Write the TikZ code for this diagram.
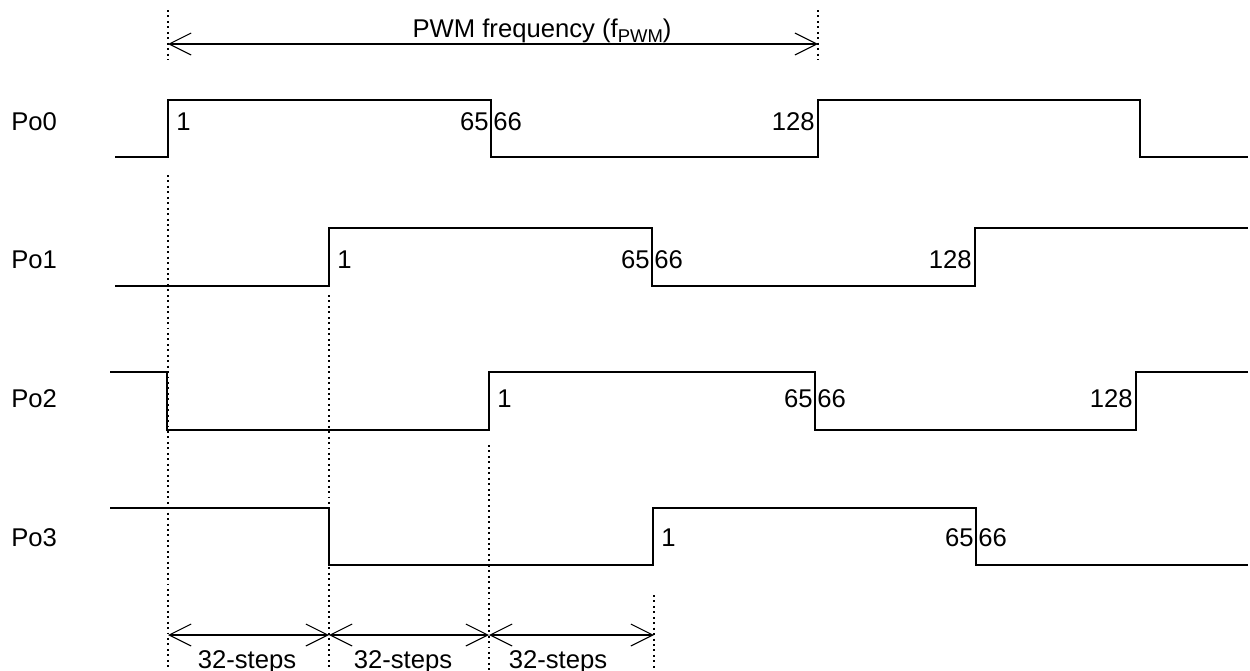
\documentclass[tikz,border=0pt]{standalone}
\usepackage{fontspec}
\setmainfont{Liberation Sans}
\usetikzlibrary{arrows.meta}
\begin{document}
\begin{tikzpicture}[x=0.02cm,y=-0.02cm,
  wave/.style={line width=1.1pt,line join=miter},
  guide/.style={line width=1.1pt,dotted},
  dim/.style={line width=0.6pt,{Straight Barb[length=12.5pt,width=12.5pt,line width=0.6pt]}-{Straight Barb[length=12.5pt,width=12.5pt,line width=0.6pt]}},
  lbl/.style={inner sep=0pt,font=\fontsize{14.6}{17}\selectfont},
  lw/.style={lbl,anchor=base west},
  le/.style={lbl,anchor=base east}]
\useasboundingbox (0,0) rectangle (1250,670);
% guides
\coordinate (t0) at (168,10); \coordinate (t0b) at (168,60);
\coordinate (t1) at (818,10); \coordinate (t1b) at (818,60);
\draw[guide] (t0) -- (t0b);
\draw[guide] (t1) -- (t1b);
\draw[guide] (168,175) -- (168,670);
\draw[guide] (329,295) -- (329,670);
\draw[guide] (489,445) -- (489,670);
\draw[guide] (654,595) -- (654,670);
% top dimension
\coordinate (a0) at (168,44); \coordinate (a1) at (818,44);
\draw[dim] (a0) -- (a1);
\node[lbl,anchor=base] (pwm) at (542,37) {PWM frequency (f\raisebox{-0.4ex}{\fontsize{10.5}{12}\selectfont PWM})};
% bottom dimensions
\coordinate (b0) at (168,635); \coordinate (b1) at (329,635);
\coordinate (b2) at (489,635); \coordinate (b3) at (654,635);
\draw[dim] (b0) -- (b1);
\draw[dim] (b1) -- (b2);
\draw[dim] (b2) -- (b3);
\node[lbl,anchor=base] (s1) at (247,668) {32-steps};
\node[lbl,anchor=base] (s2) at (403,668) {32-steps};
\node[lbl,anchor=base] (s3) at (558,668) {32-steps};
% signal names
\node[lw] (po0) at (11,130) {Po0};
\node[lw] (po1) at (11,268) {Po1};
\node[lw] (po2) at (11,407) {Po2};
\node[lw] (po3) at (11,546) {Po3};
% waveforms
\draw[wave] (115,157) -- (168,157) -- (168,100) -- (491,100) -- (491,157) -- (818,157) -- (818,100) -- (1140,100) -- (1140,157) -- (1248,157);
\draw[wave] (115,286) -- (329,286) -- (329,228) -- (652,228) -- (652,286) -- (975,286) -- (975,228) -- (1248,228);
\draw[wave] (110,372) -- (167,372) -- (167,430) -- (489,430) -- (489,372) -- (815,372) -- (815,430) -- (1136,430) -- (1136,372) -- (1248,372);
\draw[wave] (110,508) -- (329,508) -- (329,565) -- (653,565) -- (653,508) -- (976,508) -- (976,565) -- (1248,565);
% step labels
\node[lw] (p0a) at (176,130) {1};
\node[le] (p0b) at (489,130) {65};
\node[lw] (p0c) at (493,130) {66};
\node[le] (p0d) at (815,130) {128};
\node[lw] (p1a) at (337,268) {1};
\node[le] (p1b) at (650,268) {65};
\node[lw] (p1c) at (654,268) {66};
\node[le] (p1d) at (972,268) {128};
\node[lw] (p2a) at (497,407) {1};
\node[le] (p2b) at (813,407) {65};
\node[lw] (p2c) at (817,407) {66};
\node[le] (p2d) at (1133,407) {128};
\node[lw] (p3a) at (661,546) {1};
\node[le] (p3b) at (974,546) {65};
\node[lw] (p3c) at (978,546) {66};
\end{tikzpicture}
\end{document}
